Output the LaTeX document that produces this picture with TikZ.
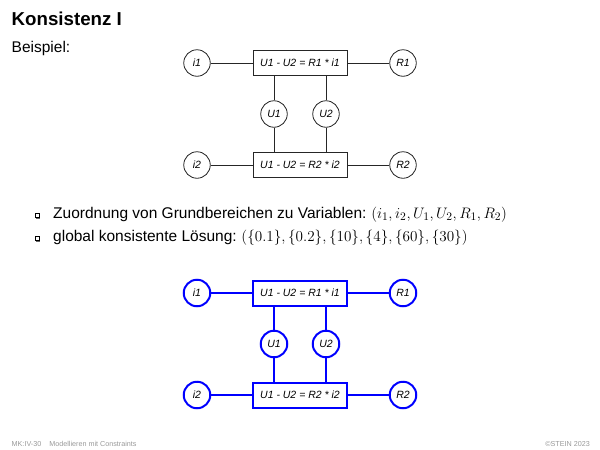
\documentclass[tikz,border=0pt]{standalone}
\usepackage{graphicx}
\usepackage{fontspec}
\setmainfont{Liberation Sans}
\newcommand{\mth}[1]{\scalebox{1.055}{$#1$}}
\begin{document}
\begin{tikzpicture}[x=1pt,y=-1pt,
  var/.style={circle,draw,minimum size=26.5pt,inner sep=0pt,font=\fontsize{10.5}{12}\selectfont\itshape},
  con/.style={rectangle,draw,minimum width=94pt,minimum height=25pt,inner sep=0pt,font=\fontsize{10.5}{12}\selectfont\itshape},
  plain/.style={line width=0.8pt,draw=black!85},
  blue/.style={line width=2pt,draw=blue},
  body/.style={anchor=base west,inner sep=0pt,font=\fontsize{15.5}{18}\selectfont},
  foot/.style={inner sep=0pt,font=\fontsize{7.2}{8}\selectfont,text=black!40}]
\useasboundingbox (0,0) rectangle (600,450);
\node[anchor=base west,inner sep=0pt,font=\fontsize{18.7}{22}\selectfont\bfseries] (title) at (11.5,25) {Konsistenz I};
\node[body] (bsp) at (11.5,52) {Beispiel:};
% top diagram
\begin{scope}[every node/.append style={plain}]
\node[var] (ai1) at (197,63) {i1};
\node[con] (ac1) at (300,63) {U1 - U2 = R1 * i1};
\node[var] (ar1) at (403,63) {R1};
\node[var] (au1) at (274,114) {U1};
\node[var] (au2) at (326,114) {U2};
\node[var] (ai2) at (197,165) {i2};
\node[con] (ac2) at (300,165) {U1 - U2 = R2 * i2};
\node[var] (ar2) at (403,165) {R2};
\end{scope}
\draw[plain] (ai1) -- (ac1); \draw[plain] (ac1) -- (ar1);
\draw[plain] (ai2) -- (ac2); \draw[plain] (ac2) -- (ar2);
\draw[plain] (au1) -- (au1 |- ac1.south); \draw[plain] (au1) -- (au1 |- ac2.north);
\draw[plain] (au2) -- (au2 |- ac1.south); \draw[plain] (au2) -- (au2 |- ac2.north);
% bullets
\foreach \y/\n in {218/ba,241/bb}{
  \fill[black!60] (36.2,\y-3.2) rectangle (40.2,\y+0.8);
  \filldraw[fill=white,draw=black,line width=0.5pt] (35,\y-4.6) rectangle (39,\y-0.6);
  \coordinate (\n) at (37,\y);
}
\node[body] (t1) at (53,218) {Zuordnung von Grundbereichen zu Variablen:\hspace{-1pt} \mth{(i_1, i_2, U_1, U_2, R_1, R_2)}};
\node[body] (t2) at (53,241) {global konsistente Lösung:\hspace{-1pt} \mth{(\{0.1\}, \{0.2\}, \{10\}, \{4\}, \{60\}, \{30\})}};
% bottom diagram
\begin{scope}[every node/.append style={blue}]
\node[var] (bi1) at (197,293) {i1};
\node[con] (bc1) at (300,293) {U1 - U2 = R1 * i1};
\node[var] (br1) at (403,293) {R1};
\node[var] (bu1) at (274,344) {U1};
\node[var] (bu2) at (326,344) {U2};
\node[var] (bi2) at (197,395) {i2};
\node[con] (bc2) at (300,395) {U1 - U2 = R2 * i2};
\node[var] (br2) at (403,395) {R2};
\end{scope}
\draw[blue] (bi1) -- (bc1); \draw[blue] (bc1) -- (br1);
\draw[blue] (bi2) -- (bc2); \draw[blue] (bc2) -- (br2);
\draw[blue] (bu1) -- (bu1 |- bc1.south); \draw[blue] (bu1) -- (bu1 |- bc2.north);
\draw[blue] (bu2) -- (bu2 |- bc1.south); \draw[blue] (bu2) -- (bu2 |- bc2.north);
% footer
\node[foot,anchor=base west] (f1) at (11.5,446) {MK:IV-30\hspace{8pt}Modellieren mit Constraints};
\node[foot,anchor=base east] (f2) at (590,446) {©STEIN 2023};
\end{tikzpicture}
\end{document}
